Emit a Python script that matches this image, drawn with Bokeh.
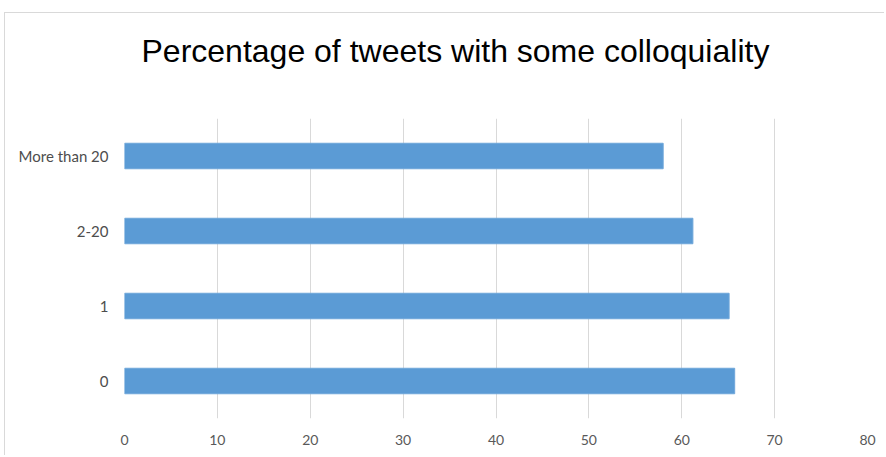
from bokeh.plotting import figure
from bokeh.models import ColumnDataSource, FactorRange, Range1d, FixedTicker, Title
from bokeh.embed import file_html
from bokeh.resources import INLINE

title_text = "Percentage of tweets with some colloquiality"
categories = ["0", "1", "2-20", "More than 20"]
values = [65.7, 65.1, 61.2, 58.0]
x_ticks = [0, 10, 20, 30, 40, 50, 60, 70, 80]

src = ColumnDataSource(dict(cat=categories, val=values))

p = figure(width=880, height=443, output_backend="svg", toolbar_location=None,
           y_range=FactorRange(factors=categories), x_range=Range1d(0, 80),
           min_border_left=119, min_border_right=18, min_border_top=105, min_border_bottom=38,
           title=title_text)
p.margin = (12, 0, 0, 4)
p.styles = {"border-top": "1px solid #d9d9d9", "border-left": "1px solid #d9d9d9"}
p.outline_line_color = None
p.background_fill_color = "white"
p.border_fill_color = "white"

p.title.text_font = "Liberation Sans"
p.title.text_font_size = "32px"
p.title.text_font_style = "normal"
p.title.text_color = "#000000"
p.title.align = "left"
p.title.offset = 17
p.title.standoff = 10

spacer = Title(text=" ", text_font_size="1px", standoff=42)
p.add_layout(spacer, "above")

p.hbar(y="cat", right="val", height=0.34, source=src, color="#5b9bd5", line_color="#6ea6da", line_width=1)

p.xaxis.ticker = FixedTicker(ticks=x_ticks)
p.xaxis.axis_line_color = None
p.xaxis.major_tick_line_color = None
p.xaxis.minor_tick_line_color = None
p.xaxis.major_label_text_font = "Lato"
p.xaxis.major_label_text_font_size = "14px"
p.xaxis.major_label_text_color = "#595959"
p.xaxis.major_label_standoff = 10

p.yaxis.axis_line_color = None
p.yaxis.major_tick_line_color = None
p.yaxis.minor_tick_line_color = None
p.yaxis.major_label_text_font = "Lato"
p.yaxis.major_label_text_font_size = "15px"
p.yaxis.major_label_text_color = "#4d4d4d"
p.yaxis.major_label_standoff = 10

p.xgrid.grid_line_color = "#d9d9d9"
p.ygrid.grid_line_color = None

open("out.html", "w").write(file_html(p, INLINE))
